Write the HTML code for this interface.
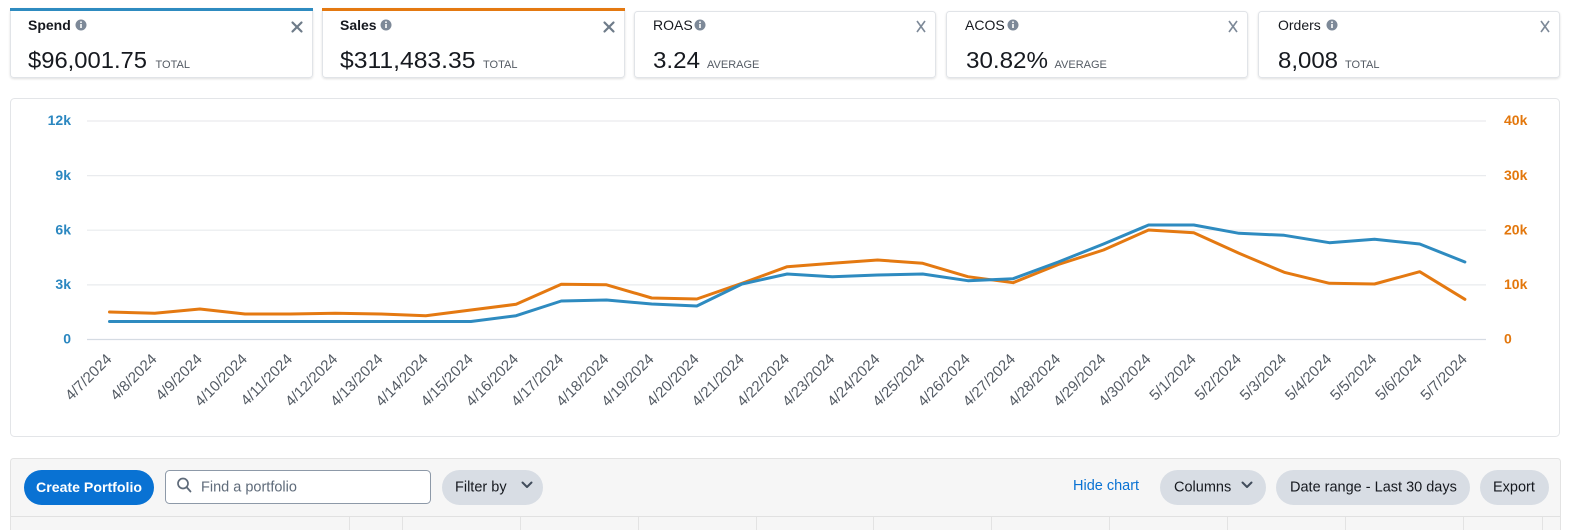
<!DOCTYPE html>
<html>
<head>
<meta charset="utf-8">
<style>
  html, body { margin:0; padding:0; background:#ffffff; }
  body { width:1573px; height:530px; overflow:hidden; position:relative; }
  svg { position:absolute; left:0; top:0; font-family:"Liberation Sans", Arial, sans-serif; }
</style>
</head>
<body>
<svg width="1573" height="530" viewBox="0 0 1573 530" xmlns="http://www.w3.org/2000/svg">
  <defs>
    <filter id="sh" x="-5%" y="-20%" width="110%" height="150%">
      <feDropShadow dx="0" dy="1" stdDeviation="1" flood-color="#000" flood-opacity="0.12"/>
    </filter>
  </defs>

  <!-- ===== Metric cards ===== -->
  <!-- Spend (selected) -->
  <rect x="10.5" y="8.5" width="302" height="69" rx="3" fill="#fff" stroke="#e1e4e8" filter="url(#sh)"/>
  <rect x="10" y="8" width="303" height="3" fill="#2e8bc0"/>
  <text x="28" y="30" font-size="14" font-weight="700" fill="#16191f">Spend</text>
  <circle cx="81" cy="25" r="5.5" fill="#7d8998"/>
  <circle cx="81" cy="22.2" r="0.9" fill="#fff"/><rect x="80.2" y="24" width="1.6" height="4" fill="#fff"/>
  <g stroke="#6e7b89" stroke-width="2.2" stroke-linecap="round"><line x1="292.5" y1="22.5" x2="301.5" y2="31.5"/><line x1="301.5" y1="22.5" x2="292.5" y2="31.5"/></g>
  <text x="28" y="68" font-size="23" fill="#16191f" textLength="119" lengthAdjust="spacingAndGlyphs">$96,001.75</text>
  <text x="155.5" y="68" font-size="11" fill="#545b64">TOTAL</text>

  <!-- Sales (selected) -->
  <rect x="322.5" y="8.5" width="302" height="69" rx="3" fill="#fff" stroke="#e1e4e8" filter="url(#sh)"/>
  <rect x="322" y="8" width="303" height="3" fill="#e47911"/>
  <text x="340" y="30" font-size="14" font-weight="700" fill="#16191f">Sales</text>
  <circle cx="386" cy="25" r="5.5" fill="#7d8998"/>
  <circle cx="386" cy="22.2" r="0.9" fill="#fff"/><rect x="385.2" y="24" width="1.6" height="4" fill="#fff"/>
  <g stroke="#6e7b89" stroke-width="2.2" stroke-linecap="round"><line x1="604.5" y1="22.5" x2="613.5" y2="31.5"/><line x1="613.5" y1="22.5" x2="604.5" y2="31.5"/></g>
  <text x="340" y="68" font-size="23" fill="#16191f" textLength="135.5" lengthAdjust="spacingAndGlyphs">$311,483.35</text>
  <text x="483" y="68" font-size="11" fill="#545b64">TOTAL</text>

  <!-- ROAS -->
  <rect x="634.5" y="11.5" width="301" height="66" rx="3" fill="#fff" stroke="#e1e4e8" filter="url(#sh)"/>
  <text x="653" y="30" font-size="14" fill="#16191f">ROAS</text>
  <circle cx="700" cy="25" r="5.5" fill="#7d8998"/>
  <circle cx="700" cy="22.2" r="0.9" fill="#fff"/><rect x="699.2" y="24" width="1.6" height="4" fill="#fff"/>
  <g stroke="#7d8998" stroke-width="1.6"><line x1="917" y1="21" x2="925" y2="32"/><line x1="925" y1="21" x2="917" y2="32"/></g>
  <text x="653" y="68" font-size="23" fill="#16191f" textLength="47" lengthAdjust="spacingAndGlyphs">3.24</text>
  <text x="707" y="68" font-size="11" fill="#545b64">AVERAGE</text>

  <!-- ACOS -->
  <rect x="946.5" y="11.5" width="301" height="66" rx="3" fill="#fff" stroke="#e1e4e8" filter="url(#sh)"/>
  <text x="965" y="30" font-size="14" fill="#16191f">ACOS</text>
  <circle cx="1013" cy="25" r="5.5" fill="#7d8998"/>
  <circle cx="1013" cy="22.2" r="0.9" fill="#fff"/><rect x="1012.2" y="24" width="1.6" height="4" fill="#fff"/>
  <g stroke="#7d8998" stroke-width="1.6"><line x1="1229" y1="21" x2="1237" y2="32"/><line x1="1237" y1="21" x2="1229" y2="32"/></g>
  <text x="966" y="68" font-size="23" fill="#16191f" textLength="82" lengthAdjust="spacingAndGlyphs">30.82%</text>
  <text x="1054.5" y="68" font-size="11" fill="#545b64">AVERAGE</text>

  <!-- Orders -->
  <rect x="1258.5" y="11.5" width="301" height="66" rx="3" fill="#fff" stroke="#e1e4e8" filter="url(#sh)"/>
  <text x="1278" y="30" font-size="14" fill="#16191f">Orders</text>
  <circle cx="1332" cy="25" r="5.5" fill="#7d8998"/>
  <circle cx="1332" cy="22.2" r="0.9" fill="#fff"/><rect x="1331.2" y="24" width="1.6" height="4" fill="#fff"/>
  <g stroke="#7d8998" stroke-width="1.6"><line x1="1541" y1="21" x2="1549" y2="32"/><line x1="1549" y1="21" x2="1541" y2="32"/></g>
  <text x="1278" y="68" font-size="23" fill="#16191f" textLength="60" lengthAdjust="spacingAndGlyphs">8,008</text>
  <text x="1345" y="68" font-size="11" fill="#545b64">TOTAL</text>

  <!-- ===== Chart panel ===== -->
  <rect x="10.5" y="98.5" width="1549" height="338" rx="4" fill="#fff" stroke="#e3e5e8"/>

  <!-- grid -->
  <g stroke="#e9ebee" stroke-width="1.2">
    <line x1="87" y1="121" x2="1486" y2="121"/>
    <line x1="87" y1="175.6" x2="1486" y2="175.6"/>
    <line x1="87" y1="230.2" x2="1486" y2="230.2"/>
    <line x1="87" y1="284.9" x2="1486" y2="284.9"/>
  </g>
  <line x1="87" y1="339.5" x2="1486" y2="339.5" stroke="#d5dbe3" stroke-width="1.3"/>

  <!-- left axis labels -->
  <g font-size="14" font-weight="700" fill="#2b87c0" text-anchor="end">
    <text x="71" y="125">12k</text>
    <text x="71" y="180">9k</text>
    <text x="71" y="234.5">6k</text>
    <text x="71" y="289">3k</text>
    <text x="71" y="343.5">0</text>
  </g>
  <!-- right axis labels -->
  <g font-size="14" font-weight="700" fill="#e3770c" text-anchor="start">
    <text x="1504" y="125">40k</text>
    <text x="1504" y="180">30k</text>
    <text x="1504" y="234.5">20k</text>
    <text x="1504" y="289">10k</text>
    <text x="1504" y="343.5">0</text>
  </g>

  <!-- series -->
  <polyline fill="none" stroke="#e47911" stroke-width="3" stroke-linejoin="round" stroke-linecap="round"
    points="109.5,312 154.7,313.3 199.9,309 245,314 290.2,314 335.4,313.3 380.6,314 425.8,315.7 470.9,310 516.1,304.3 561.3,284.3 606.5,284.8 651.7,298 696.8,299 742,283.3 787.2,266.7 832.4,263.3 877.6,260 922.7,263.3 967.9,276.7 1013.1,282.7 1058.3,264.5 1103.5,250 1148.6,230 1193.8,232.7 1239,253.3 1284.2,272.3 1329.4,283.3 1374.5,284 1419.7,271.7 1464.9,299.3"/>
  <polyline fill="none" stroke="#2e8bc0" stroke-width="3" stroke-linejoin="round" stroke-linecap="round"
    points="109.5,321.5 154.7,321.5 199.9,321.5 245,321.5 290.2,321.5 335.4,321.5 380.6,321.5 425.8,321.5 470.9,321.5 516.1,315.7 561.3,301 606.5,300 651.7,304 696.8,306 742,284 787.2,274 832.4,276.7 877.6,275 922.7,274 967.9,280.7 1013.1,278.7 1058.3,262 1103.5,244 1148.6,225 1193.8,225 1239,233.3 1284.2,235.3 1329.4,242.7 1374.5,239.3 1419.7,244 1464.9,262"/>

  <!-- x axis labels -->
  <g font-size="15" fill="#545b64" text-anchor="end">
    <text transform="translate(112.5,360) rotate(-45)">4/7/2024</text>
    <text transform="translate(157.7,360) rotate(-45)">4/8/2024</text>
    <text transform="translate(202.9,360) rotate(-45)">4/9/2024</text>
    <text transform="translate(248,360) rotate(-45)">4/10/2024</text>
    <text transform="translate(293.2,360) rotate(-45)">4/11/2024</text>
    <text transform="translate(338.4,360) rotate(-45)">4/12/2024</text>
    <text transform="translate(383.6,360) rotate(-45)">4/13/2024</text>
    <text transform="translate(428.8,360) rotate(-45)">4/14/2024</text>
    <text transform="translate(473.9,360) rotate(-45)">4/15/2024</text>
    <text transform="translate(519.1,360) rotate(-45)">4/16/2024</text>
    <text transform="translate(564.3,360) rotate(-45)">4/17/2024</text>
    <text transform="translate(609.5,360) rotate(-45)">4/18/2024</text>
    <text transform="translate(654.7,360) rotate(-45)">4/19/2024</text>
    <text transform="translate(699.8,360) rotate(-45)">4/20/2024</text>
    <text transform="translate(745,360) rotate(-45)">4/21/2024</text>
    <text transform="translate(790.2,360) rotate(-45)">4/22/2024</text>
    <text transform="translate(835.4,360) rotate(-45)">4/23/2024</text>
    <text transform="translate(880.6,360) rotate(-45)">4/24/2024</text>
    <text transform="translate(925.7,360) rotate(-45)">4/25/2024</text>
    <text transform="translate(970.9,360) rotate(-45)">4/26/2024</text>
    <text transform="translate(1016.1,360) rotate(-45)">4/27/2024</text>
    <text transform="translate(1061.3,360) rotate(-45)">4/28/2024</text>
    <text transform="translate(1106.5,360) rotate(-45)">4/29/2024</text>
    <text transform="translate(1151.6,360) rotate(-45)">4/30/2024</text>
    <text transform="translate(1196.8,360) rotate(-45)">5/1/2024</text>
    <text transform="translate(1242,360) rotate(-45)">5/2/2024</text>
    <text transform="translate(1287.2,360) rotate(-45)">5/3/2024</text>
    <text transform="translate(1332.4,360) rotate(-45)">5/4/2024</text>
    <text transform="translate(1377.5,360) rotate(-45)">5/5/2024</text>
    <text transform="translate(1422.7,360) rotate(-45)">5/6/2024</text>
    <text transform="translate(1467.9,360) rotate(-45)">5/7/2024</text>
  </g>

  <!-- ===== Toolbar panel ===== -->
  <rect x="10.5" y="458.5" width="1550" height="90" rx="3" fill="#f6f6f6" stroke="#e3e3e3"/>
  <line x1="11" y1="516.5" x2="1560" y2="516.5" stroke="#e1e1e1"/>
  <g stroke="#e3e3e3">
    <line x1="349.5" y1="517" x2="349.5" y2="530"/>
    <line x1="402.5" y1="517" x2="402.5" y2="530"/>
    <line x1="520.5" y1="517" x2="520.5" y2="530"/>
    <line x1="638.5" y1="517" x2="638.5" y2="530"/>
    <line x1="756.5" y1="517" x2="756.5" y2="530"/>
    <line x1="873.5" y1="517" x2="873.5" y2="530"/>
    <line x1="991.5" y1="517" x2="991.5" y2="530"/>
    <line x1="1109.5" y1="517" x2="1109.5" y2="530"/>
    <line x1="1227.5" y1="517" x2="1227.5" y2="530"/>
    <line x1="1345.5" y1="517" x2="1345.5" y2="530"/>
    <line x1="1463.5" y1="517" x2="1463.5" y2="530"/>
    <line x1="1542.5" y1="517" x2="1542.5" y2="530"/>
  </g>

  <!-- Create Portfolio -->
  <rect x="24" y="470" width="130" height="35" rx="17.5" fill="#0972d3"/>
  <text x="89" y="492" font-size="14" font-weight="700" fill="#fff" text-anchor="middle" textLength="106" lengthAdjust="spacingAndGlyphs">Create Portfolio</text>

  <!-- Search -->
  <rect x="165.5" y="470.5" width="265" height="33" rx="4" fill="#fff" stroke="#8d99a8"/>
  <circle cx="183" cy="483.5" r="5" fill="none" stroke="#5f6b7a" stroke-width="1.7"/>
  <line x1="186.6" y1="487.1" x2="190.5" y2="491.5" stroke="#5f6b7a" stroke-width="1.8" stroke-linecap="round"/>
  <text x="201" y="491.5" font-size="14.5" fill="#5f6b7a">Find a portfolio</text>

  <!-- Filter by -->
  <rect x="442" y="470" width="101" height="35" rx="17.5" fill="#d8dde4"/>
  <text x="455" y="491.5" font-size="14.5" fill="#16191f">Filter by</text>
  <polyline points="522.5,482.5 527,487 531.5,482.5" fill="none" stroke="#414d5c" stroke-width="2" stroke-linecap="round" stroke-linejoin="round"/>

  <!-- Right controls -->
  <text x="1073" y="490" font-size="14.5" fill="#0972d3">Hide chart</text>

  <rect x="1160" y="470" width="106" height="35" rx="17.5" fill="#d8dde4"/>
  <text x="1174" y="491.5" font-size="14.5" fill="#16191f">Columns</text>
  <polyline points="1242.5,482.5 1247,487 1251.5,482.5" fill="none" stroke="#414d5c" stroke-width="2" stroke-linecap="round" stroke-linejoin="round"/>

  <rect x="1276" y="470" width="194" height="35" rx="17.5" fill="#d8dde4"/>
  <text x="1290" y="491.5" font-size="14.5" fill="#16191f">Date range - Last 30 days</text>

  <rect x="1480" y="470" width="69" height="35" rx="17.5" fill="#d8dde4"/>
  <text x="1493" y="491.5" font-size="14.5" fill="#16191f">Export</text>
</svg>
</body>
</html>
